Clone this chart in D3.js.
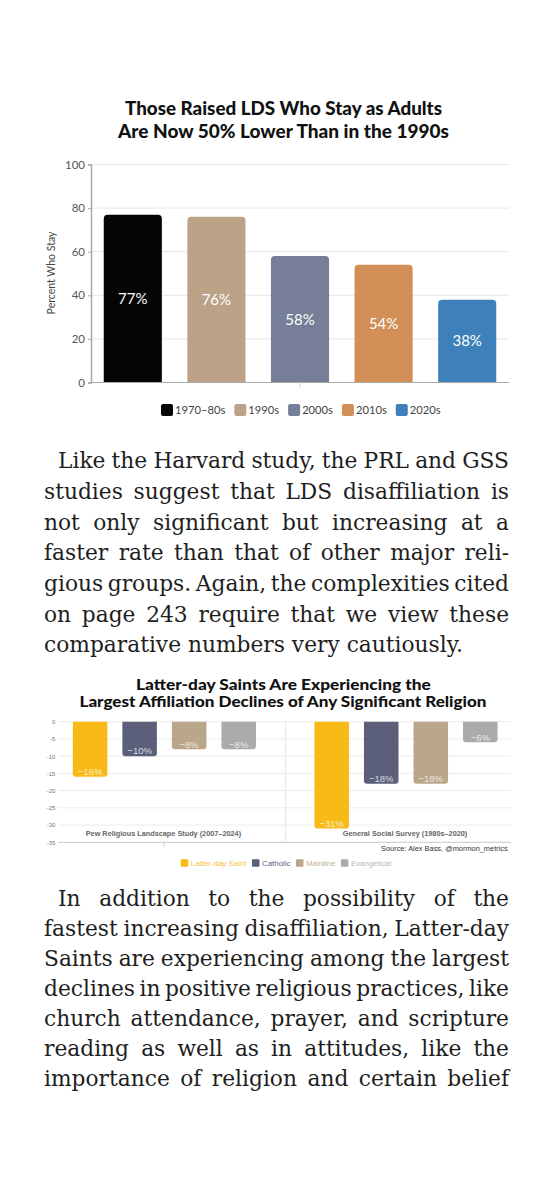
<!DOCTYPE html>
<html>
<head>
<meta charset="utf-8">
<script src="https://cdn.jsdelivr.net/npm/d3@7"></script>
<style>
  html, body { margin: 0; padding: 0; background: #fff; }
  svg { display: block; }
</style>
</head>
<body>
<svg id="page" width="554" height="1200"></svg>
<script>
// ---------- DATA ----------
const decades = ["1970–80s", "1990s", "2000s", "2010s", "2020s"];
const stayValues = [77, 76, 58, 54, 38];
const decadeColors = ["#050505", "#bca387", "#767e98", "#d18e56", "#3e80b9"];
const stayTicks = [0, 20, 40, 60, 80, 100];
const chart1Title = ["Those Raised LDS Who Stay as Adults", "Are Now 50% Lower Than in the 1990s"];
const chart1YLabel = "Percent Who Stay";

const surveys = ["Pew Religious Landscape Study (2007–2024)", "General Social Survey (1980s–2020)"];
const religions = ["Latter-day Saint", "Catholic", "Mainline", "Evangelical"];
const pewValues = [-16, -10, -8, -8];
const gssValues = [-31, -18, -18, -6];
const religionColors = ["#f7ba17", "#5b5f7a", "#baa68b", "#ababab"];
const declineTicks = [0, -5, -10, -15, -20, -25, -30, -35];
const chart2Title = ["Latter-day Saints Are Experiencing the", "Largest Affiliation Declines of Any Significant Religion"];
const chart2Source = "Source: Alex Bass, @mormon_metrics";

const paragraph1 = [
  "Like the Harvard study, the PRL and GSS",
  "studies suggest that LDS disaffiliation is",
  "not only significant but increasing at a",
  "faster rate than that of other major reli-",
  "gious groups. Again, the complexities cited",
  "on page 243 require that we view these",
  "comparative numbers very cautiously."
];
const paragraph2 = [
  "In addition to the possibility of the",
  "fastest increasing disaffiliation, Latter-day",
  "Saints are experiencing among the largest",
  "declines in positive religious practices, like",
  "church attendance, prayer, and scripture",
  "reading as well as in attitudes, like the",
  "importance of religion and certain belief"
];

// ---------- SETUP ----------
const svg = d3.select("#page");
svg.append("rect").attr("width", 554).attr("height", 1200).attr("fill", "#fff");

const measurer = svg.append("text").attr("x", -1000).attr("y", -1000);
function measure(str, font, size, weight) {
  measurer.attr("font-family", font).attr("font-size", size).attr("font-weight", weight || "normal").text(str);
  return measurer.node().getComputedTextLength();
}

function roundedTopPath(x, y, w, h, r) {
  r = Math.min(r, h, w / 2);
  return `M${x},${y + h}V${y + r}Q${x},${y} ${x + r},${y}H${x + w - r}Q${x + w},${y} ${x + w},${y + r}V${y + h}Z`;
}
function roundedBottomPath(x, y, w, h, r) {
  r = Math.min(r, h, w / 2);
  return `M${x},${y}H${x + w}V${y + h - r}Q${x + w},${y + h} ${x + w - r},${y + h}H${x + r}Q${x},${y + h} ${x},${y + h - r}Z`;
}

// ---------- CHART 1 ----------
const g1 = svg.append("g");
const titleFont = "Lato";
g1.selectAll("text.title").data(chart1Title).join("text")
  .attr("class", "title")
  .attr("x", 283.5).attr("y", (d, i) => 115 + i * 23)
  .attr("text-anchor", "middle")
  .attr("font-family", titleFont).attr("font-weight", 900).attr("font-size", 18)
  .attr("fill", "#111")
  .attr("textLength", (d, i) => [317, 331][i]).attr("lengthAdjust", "spacingAndGlyphs")
  .text(d => d);

const x1 = d3.scaleBand().domain(decades).range([91, 509]).paddingInner(0.305).paddingOuter(0.1525);
const y1 = d3.scaleLinear().domain([0, 100]).range([382.5, 164.5]);

// grid
g1.append("g").selectAll("line").data(stayTicks.filter(t => t > 0)).join("line")
  .attr("x1", 91).attr("x2", 509).attr("y1", d => y1(d)).attr("y2", d => y1(d))
  .attr("stroke", "#e6e6e6").attr("stroke-width", 1);

// y axis
const yAxis1 = g1.append("g").attr("transform", "translate(91,0)")
  .call(d3.axisLeft(y1).tickValues(stayTicks).tickSize(3).tickPadding(3));
yAxis1.select(".domain").attr("stroke", "#a8a8a8").attr("stroke-width", 1.5);
yAxis1.selectAll(".tick line").attr("stroke", "#a8a8a8");
yAxis1.selectAll(".tick text").attr("font-family", "Lato").attr("font-size", 11.5).attr("fill", "#555");

// bars
g1.append("g").selectAll("path").data(decades).join("path")
  .attr("d", (d, i) => roundedTopPath(x1(d), y1(stayValues[i]), x1.bandwidth(), y1(0) - y1(stayValues[i]), 4))
  .attr("fill", (d, i) => decadeColors[i]);

// baseline
g1.append("line").attr("x1", 91).attr("x2", 509).attr("y1", y1(0)).attr("y2", y1(0))
  .attr("stroke", "#a8a8a8").attr("stroke-width", 1.2);
g1.append("line").attr("x1", 300).attr("x2", 300).attr("y1", y1(0)).attr("y2", y1(0) + 5)
  .attr("stroke", "#cfcfcf").attr("stroke-width", 1);

// value labels
g1.append("g").selectAll("text").data(decades).join("text")
  .attr("x", d => x1(d) + x1.bandwidth() / 2)
  .attr("y", (d, i) => (y1(stayValues[i]) + y1(0)) / 2)
  .attr("dy", "0.35em")
  .attr("text-anchor", "middle")
  .attr("font-family", "Lato").attr("font-size", 15).attr("fill", "#fff")
  .text((d, i) => stayValues[i] + "%");

// y label
g1.append("text")
  .attr("transform", "translate(55,273) rotate(-90)")
  .attr("text-anchor", "middle")
  .attr("font-family", "Lato").attr("font-size", 10.5).attr("fill", "#444")
  .text(chart1YLabel);

// legend 1
(function () {
  const fs = 11.2, sq = 12, gapText = 2, gapItem = 9;
  const widths = decades.map(d => measure(d, "Lato", fs));
  const total = d3.sum(widths) + decades.length * (sq + gapText) + (decades.length - 1) * gapItem;
  let cx = 300.8 - total / 2;
  const lg = g1.append("g");
  decades.forEach((d, i) => {
    lg.append("rect").attr("x", cx).attr("y", 404).attr("width", sq).attr("height", sq).attr("rx", 2)
      .attr("fill", decadeColors[i]);
    lg.append("text").attr("x", cx + sq + gapText).attr("y", 410).attr("dy", "0.35em")
      .attr("font-family", "Lato").attr("font-size", fs).attr("fill", "#444").text(d);
    cx += sq + gapText + widths[i] + gapItem;
  });
})();

// ---------- PARAGRAPHS ----------
const bodyFont = "DejaVu Serif";
const bodySize = 100 * 419 / measure("comparative numbers very cautiously.", bodyFont, 100);
const leftEdge = 44, rightEdge = 509, indent = 14;

function drawParagraph(lines, baseline0, step, justifyLast) {
  const g = svg.append("g").attr("font-family", bodyFont).attr("font-size", bodySize).attr("fill", "#1e1e1e");
  const spaceW = measure("a a", bodyFont, bodySize) - measure("aa", bodyFont, bodySize);
  lines.forEach((line, i) => {
    const words = line.split(" ");
    const ws = words.map(w => measure(w, bodyFont, bodySize));
    const left = leftEdge + (i === 0 ? indent : 0);
    const isLast = i === lines.length - 1 && !justifyLast;
    let gap = isLast ? spaceW : (rightEdge - left - d3.sum(ws)) / (words.length - 1);
    const t = g.append("text").attr("y", baseline0 + i * step);
    let x = left;
    words.forEach((w, k) => {
      t.append("tspan").attr("x", x).text(w);
      x += ws[k] + gap;
    });
  });
}
drawParagraph(paragraph1, 468.3, 30.65, false);
drawParagraph(paragraph2, 905.5, 30.0, true);

// ---------- CHART 2 ----------
const g2 = svg.append("g");
g2.selectAll("text.title").data(chart2Title).join("text")
  .attr("x", (d, i) => [283.4, 283][i]).attr("y", (d, i) => 690 + i * 16.5)
  .attr("text-anchor", "middle")
  .attr("font-family", titleFont).attr("font-weight", 900).attr("font-size", 14.8)
  .attr("fill", "#111")
  .attr("textLength", (d, i) => [294.7, 407][i]).attr("lengthAdjust", "spacingAndGlyphs")
  .text(d => d);

const x0 = d3.scaleBand().domain(surveys).range([43.6, 526.8]);
const xInner = d3.scaleBand().domain(religions).range([0, x0.bandwidth()]).paddingInner(0.303).paddingOuter(0.59);
const y2 = d3.scaleLinear().domain([-35, 0]).range([842.3, 721.7]);
const values2 = [pewValues, gssValues];

// grid
g2.append("g").selectAll("line").data(declineTicks.filter(t => t > -35)).join("line")
  .attr("x1", 58.3).attr("x2", 511).attr("y1", d => y2(d)).attr("y2", d => y2(d))
  .attr("stroke", "#ececec").attr("stroke-width", 1);
// separator
g2.append("line").attr("x1", 285.7).attr("x2", 285.7).attr("y1", y2(0)).attr("y2", y2(-35))
  .attr("stroke", "#e6e6e6").attr("stroke-width", 1);

// y axis tick labels
const yAxis2 = g2.append("g").attr("transform", "translate(58.3,0)")
  .call(d3.axisLeft(y2).tickValues(declineTicks).tickSize(0).tickPadding(3).tickFormat(d => d === 0 ? "0" : "-" + Math.abs(d)));
yAxis2.select(".domain").remove();
yAxis2.selectAll(".tick text").attr("font-family", "Liberation Sans").attr("font-size", 6).attr("fill", "#777");

// bars
surveys.forEach((s, si) => {
  const gg = g2.append("g").attr("transform", `translate(${x0(s)},0)`);
  gg.selectAll("path").data(religions).join("path")
    .attr("d", (r, ri) => roundedBottomPath(xInner(r), y2(0), xInner.bandwidth(), y2(values2[si][ri]) - y2(0), 3))
    .attr("fill", (r, ri) => religionColors[ri]);
  gg.selectAll("text.val").data(religions).join("text")
    .attr("class", "val")
    .attr("x", r => xInner(r) + xInner.bandwidth() / 2)
    .attr("y", (r, ri) => y2(values2[si][ri]) - 5)
    .attr("dy", "0.35em")
    .attr("text-anchor", "middle")
    .attr("font-family", "Liberation Sans").attr("font-size", 9.5)
    .attr("fill", "#fff").attr("fill-opacity", 0.75)
    .text((r, ri) => "−" + Math.abs(values2[si][ri]) + "%");
  g2.append("text")
    .attr("x", x0(s) + x0.bandwidth() / 2 - 1).attr("y", 836)
    .attr("text-anchor", "middle")
    .attr("font-family", "Liberation Sans").attr("font-weight", "bold").attr("font-size", 7.3)
    .attr("fill", "#666")
    .text(s);
});

// bottom axis line
g2.append("line").attr("x1", 58.3).attr("x2", 511).attr("y1", y2(-35)).attr("y2", y2(-35))
  .attr("stroke", "#c8c8c8").attr("stroke-width", 1);
g2.append("line").attr("x1", 164).attr("x2", 164).attr("y1", y2(-35)).attr("y2", y2(-35) + 4)
  .attr("stroke", "#c8c8c8").attr("stroke-width", 1);

// source
g2.append("text").attr("x", 507.7).attr("y", 851).attr("text-anchor", "end")
  .attr("font-family", "Liberation Sans").attr("font-size", 7.4).attr("fill", "#333")
  .text(chart2Source);

// legend 2
(function () {
  const fs = 7.9, sq = 7.5, gapText = 2.5, gapItem = 5.5;
  const textColors = ["#f5c23f", "#5b5f7a", "#c2b098", "#b8b8b8"];
  const widths = religions.map(d => measure(d, "Liberation Sans", fs));
  const total = d3.sum(widths) + religions.length * (sq + gapText) + (religions.length - 1) * gapItem;
  let cx = 286 - total / 2;
  const lg = g2.append("g");
  religions.forEach((d, i) => {
    lg.append("rect").attr("x", cx).attr("y", 863 - sq / 2).attr("width", sq).attr("height", sq).attr("rx", 1)
      .attr("fill", religionColors[i]);
    lg.append("text").attr("x", cx + sq + gapText).attr("y", 863).attr("dy", "0.35em")
      .attr("font-family", "Liberation Sans").attr("font-size", fs).attr("fill", textColors[i]).text(d);
    cx += sq + gapText + widths[i] + gapItem;
  });
})();

measurer.remove();
</script>
</body>
</html>
